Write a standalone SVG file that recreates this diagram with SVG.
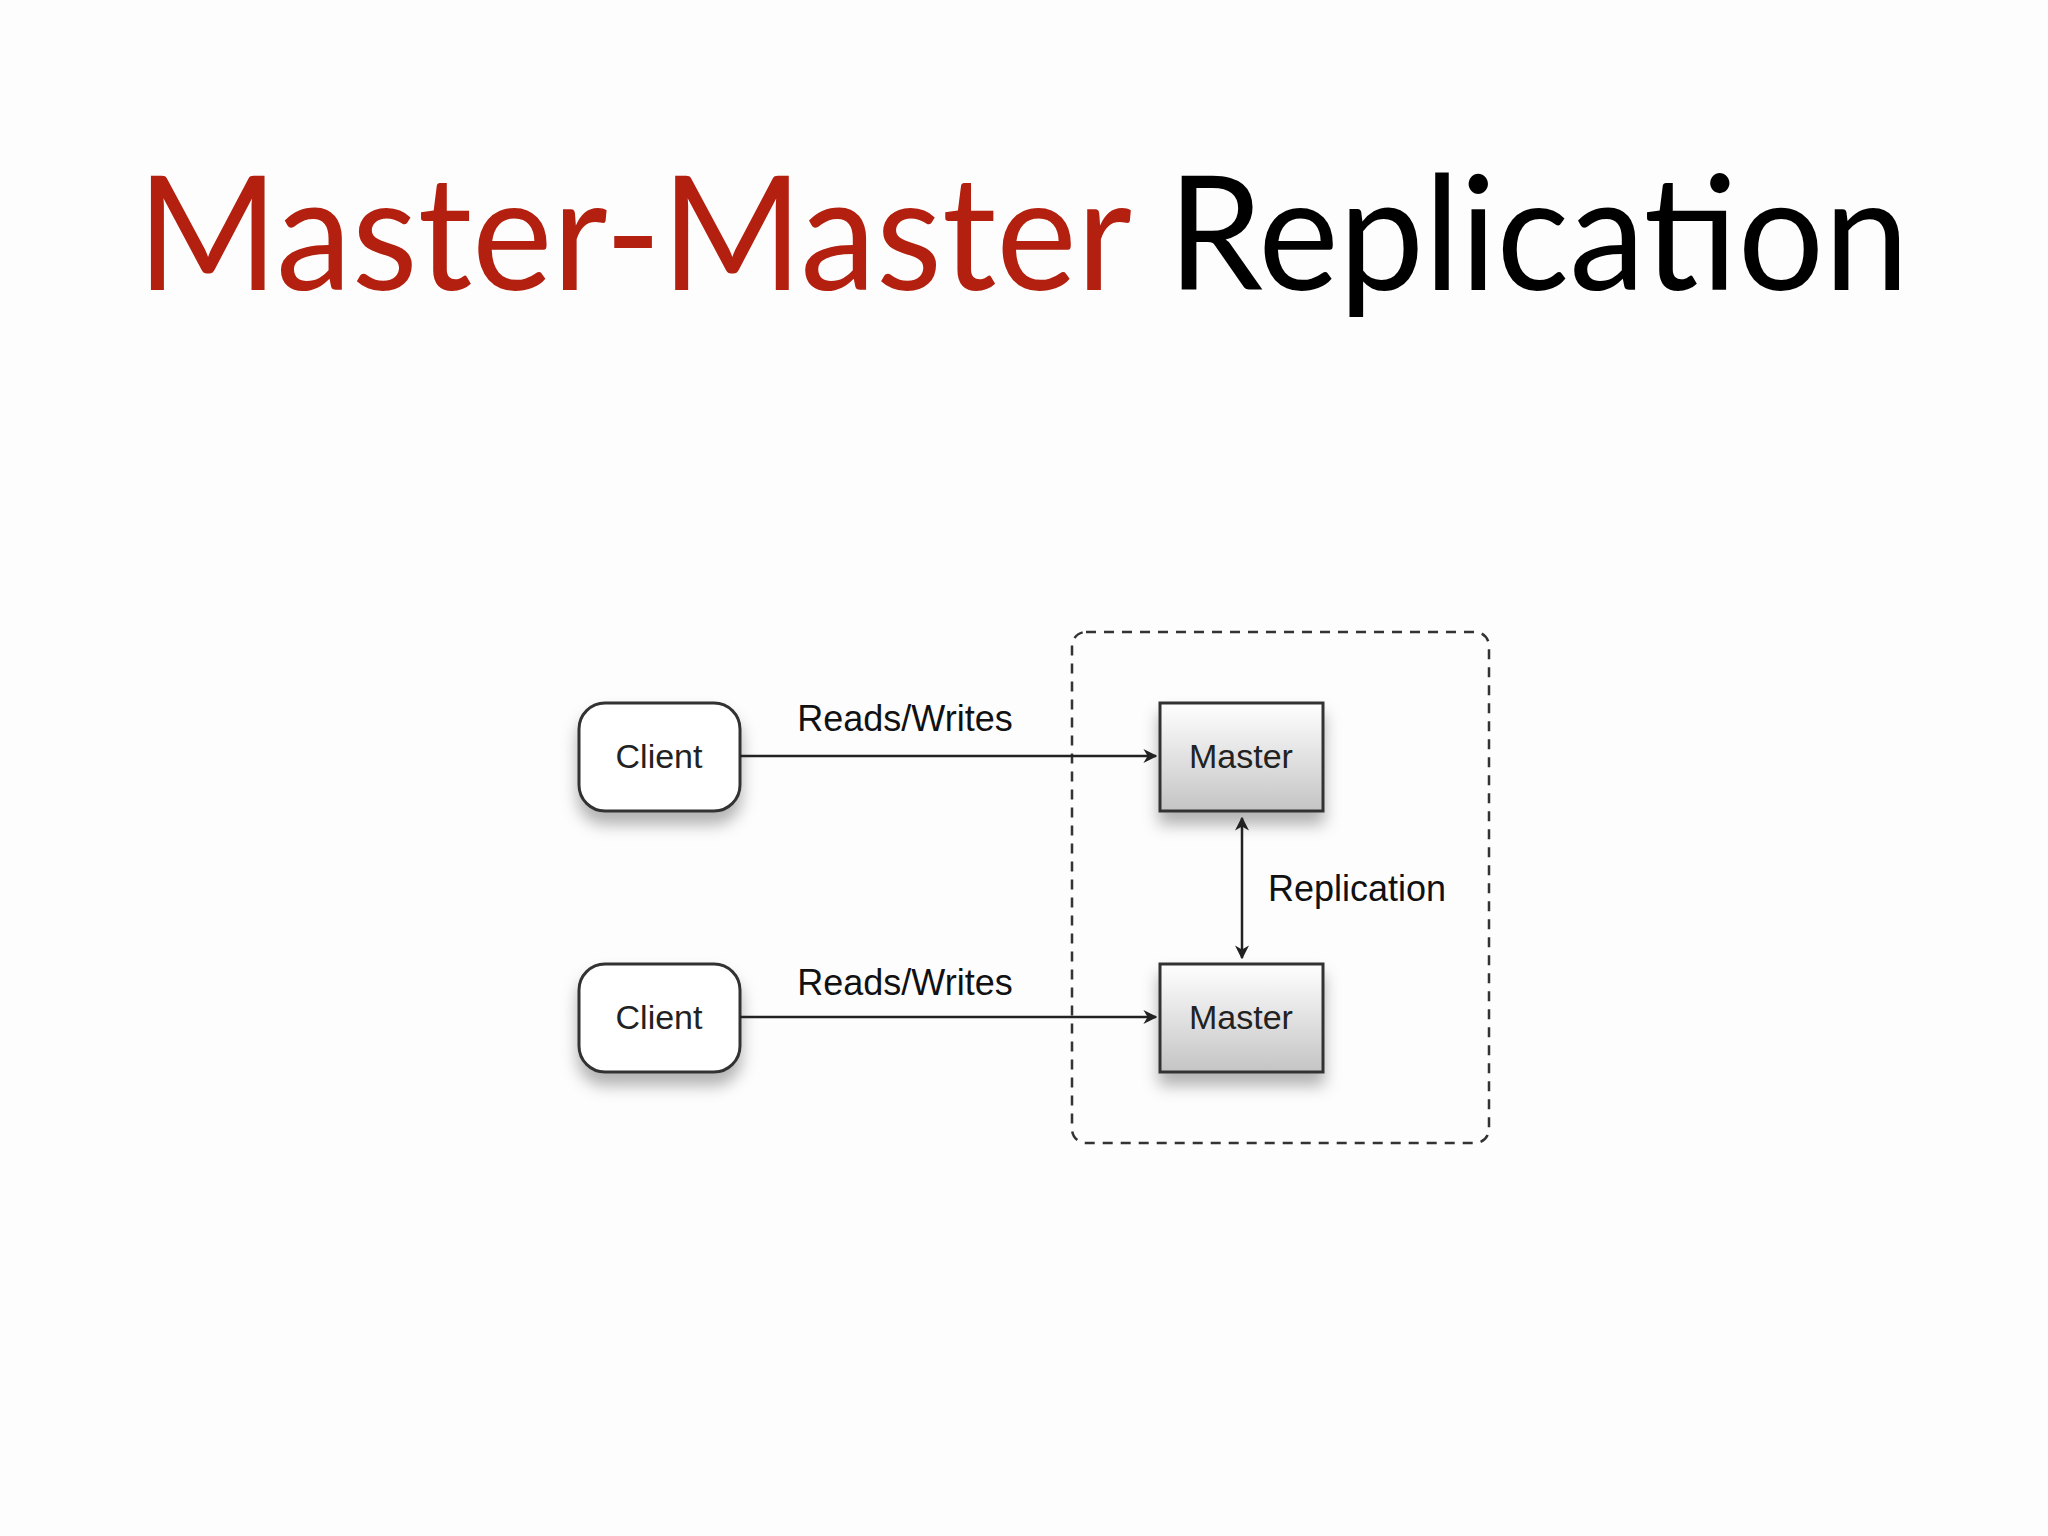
<svg xmlns="http://www.w3.org/2000/svg" width="2048" height="1536" viewBox="0 0 2048 1536">
<style>
.lbl{font-family:"Liberation Sans",Arial,sans-serif;font-size:36px;fill:#111}
.nt{font-family:"Liberation Sans",Arial,sans-serif;font-size:34px;fill:#222;text-anchor:middle}
.edge{stroke:#222;stroke-width:2.5;fill:none}
</style>
<defs>
<marker id="ah" viewBox="0 0 20 20" refX="18" refY="10" markerWidth="14" markerHeight="14" markerUnits="userSpaceOnUse" orient="auto-start-reverse"><path d="M0,0 L20,10 L0,20 L6,10 Z" fill="#222"/></marker>
<linearGradient id="mg" x1="0" y1="0" x2="0" y2="1"><stop offset="0" stop-color="#ffffff"/><stop offset="1" stop-color="#c4c4c4"/></linearGradient>
<filter id="sh" x="-20%" y="-20%" width="140%" height="160%"><feDropShadow dx="0" dy="12" stdDeviation="8" flood-color="#000" flood-opacity="0.3"/></filter>
</defs>
<rect width="2048" height="1536" fill="#fdfdfd"/>
<text x="137" y="290" font-family="Lato,'Open Sans',sans-serif" font-size="160" textLength="1772" lengthAdjust="spacingAndGlyphs"><tspan fill="#b3200f">Master-Master</tspan> <tspan fill="#000">Replication</tspan></text>
<rect x="1072" y="632" width="417" height="511" rx="14" fill="none" stroke="#333" stroke-width="2.5" stroke-dasharray="10,8"/>
<g id="client1"><rect x="579" y="703" width="161" height="108" rx="26" fill="#fff" stroke="#333" stroke-width="3" filter="url(#sh)"/><text class="nt" x="659" y="768">Client</text></g>
<g id="client2"><rect x="579" y="964" width="161" height="108" rx="26" fill="#fff" stroke="#333" stroke-width="3" filter="url(#sh)"/><text class="nt" x="659" y="1029">Client</text></g>
<g id="master1"><rect x="1160" y="703" width="163" height="108" fill="url(#mg)" stroke="#333" stroke-width="3" filter="url(#sh)"/><text class="nt" x="1241" y="768">Master</text></g>
<g id="master2"><rect x="1160" y="964" width="163" height="108" fill="url(#mg)" stroke="#333" stroke-width="3" filter="url(#sh)"/><text class="nt" x="1241" y="1029">Master</text></g>
<g id="connectors">
<line class="edge" x1="740" y1="756" x2="1156" y2="756" marker-end="url(#ah)"/>
<line class="edge" x1="740" y1="1017" x2="1156" y2="1017" marker-end="url(#ah)"/>
<line class="edge" x1="1242" y1="818" x2="1242" y2="958" marker-start="url(#ah)" marker-end="url(#ah)"/>
<text class="lbl" x="905" y="731" text-anchor="middle">Reads/Writes</text>
<text class="lbl" x="905" y="995" text-anchor="middle">Reads/Writes</text>
<text class="lbl" x="1268" y="901">Replication</text>
</g>
</svg>
